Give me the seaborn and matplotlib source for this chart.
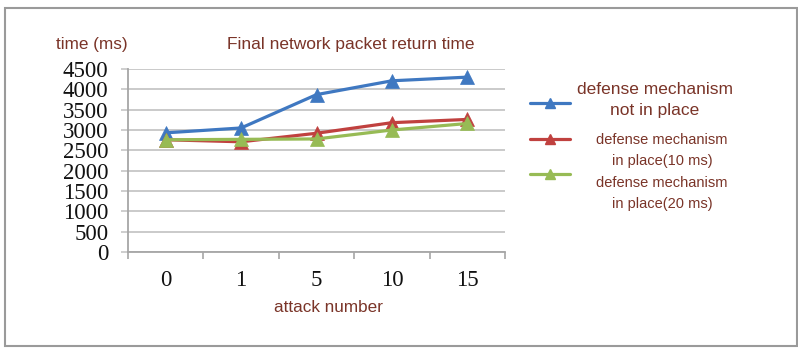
import numpy as np
import pandas as pd
import matplotlib
matplotlib.use("Agg")
import matplotlib.pyplot as plt
from matplotlib.lines import Line2D
from matplotlib.patches import Rectangle
import seaborn as sns

# Attack counts on the x axis (categorical) and return times in ms
attack_numbers = ["0", "1", "5", "10", "15"]
no_defense = [2930, 3050, 3870, 4210, 4300]
defense_10ms = [2760, 2710, 2920, 3180, 3260]
defense_20ms = [2760, 2770, 2780, 3000, 3160]
y_ticks = [0, 500, 1000, 1500, 2000, 2500, 3000, 3500, 4000, 4500]

series_names = [
    "defense mechanism\nnot in place",
    "defense mechanism\nin place(10 ms)",
    "defense mechanism\nin place(20 ms)",
]
series_values = [no_defense, defense_10ms, defense_20ms]
colors = ["#3f78c1", "#c0413f", "#97bb55"]
text_color = "#7a3428"

positions = np.arange(len(attack_numbers))
df = pd.concat(
    [pd.DataFrame({"pos": positions, "time": vals, "series": name})
     for name, vals in zip(series_names, series_values)],
    ignore_index=True,
)

sns.set_theme(style="white")
plt.rcParams["font.family"] = ["Liberation Sans", "DejaVu Sans"]

W, H = 798, 349
fig = plt.figure(figsize=(W / 100, H / 100), dpi=100)
fig.patch.set_facecolor("white")

# outer chart frame
fig.add_artist(Rectangle((5 / W, 1 - 346 / H), 792 / W, 338 / H,
                         transform=fig.transFigure, fill=False,
                         edgecolor="#9a9a9a", linewidth=1.5))

ax = fig.add_axes([128 / W, 1 - 252 / H, 377 / W, 183 / H])
sns.lineplot(data=df, x="pos", y="time", hue="series", hue_order=series_names,
             palette=colors, marker="^", markersize=10, markeredgewidth=0.5,
             linewidth=2.3, legend=False, ax=ax, zorder=3)
for line, c in zip(ax.get_lines(), colors):
    line.set_markeredgecolor(c)

ax.set_xlim(-0.5, len(attack_numbers) - 0.5)
ax.set_ylim(0, 4500)
ax.set_yticks(y_ticks)
ax.set_yticklabels([str(v) for v in y_ticks], family="Liberation Serif",
                   fontsize=16.5, color="#111111")
ax.yaxis.grid(True, color="#c6c6c6", linewidth=1.3)
ax.set_axisbelow(True)

# boundary ticks between categories, labels centred on categories
ax.set_xticks(np.arange(-0.5, len(attack_numbers), 1.0))
ax.set_xticklabels([])
ax.set_xticks(positions, minor=True)
ax.set_xticklabels(attack_numbers, minor=True, family="Liberation Serif",
                   fontsize=16.5, color="#111111")
ax.tick_params(axis="x", which="major", direction="out", length=5,
               width=1.2, color="#a6a6a6", bottom=True)
ax.tick_params(axis="x", which="minor", length=0, pad=13)
ax.tick_params(axis="y", direction="out", length=5, width=1.2,
               color="#c6c6c6", left=True, pad=9)

for side in ["top", "right"]:
    ax.spines[side].set_visible(False)
for side in ["left", "bottom"]:
    ax.spines[side].set_color("#a6a6a6")
    ax.spines[side].set_linewidth(1.3)

ax.set_xlabel("")
ax.set_ylabel("")

fig.text(92 / W, 1 - 45 / H, "time (ms)", ha="center", va="center",
         fontsize=12.3, color=text_color)
fig.text(351 / W, 1 - 45 / H, "Final network packet return time",
         ha="center", va="center", fontsize=12.5, color=text_color)
fig.text(329 / W, 1 - 307 / H, "attack number", ha="center", va="center",
         fontsize=12.3, color=text_color)

# legend samples and labels
handle_y = [103, 139, 174]
label_lines = [(89, 111), (140, 161), (183, 204)]
label_x = [655, 662, 662]
label_sizes = [12.5, 10.5, 10.5]
for name, c, hy, (y1, y2), lx, fs in zip(series_names, colors, handle_y,
                                         label_lines, label_x, label_sizes):
    fig.add_artist(Line2D([530 / W, 570 / W], [1 - hy / H, 1 - hy / H],
                          transform=fig.transFigure, color=c, linewidth=2.3))
    fig.add_artist(Line2D([550 / W], [1 - hy / H], transform=fig.transFigure,
                          color=c, marker="^", markersize=7,
                          markeredgecolor=c))
    first, second = name.split("\n")
    fig.text(lx / W, 1 - y1 / H, first, ha="center", va="center",
             fontsize=fs, color=text_color)
    fig.text(lx / W, 1 - y2 / H, second, ha="center", va="center",
             fontsize=fs, color=text_color)

fig.savefig("out.png", dpi=100)
